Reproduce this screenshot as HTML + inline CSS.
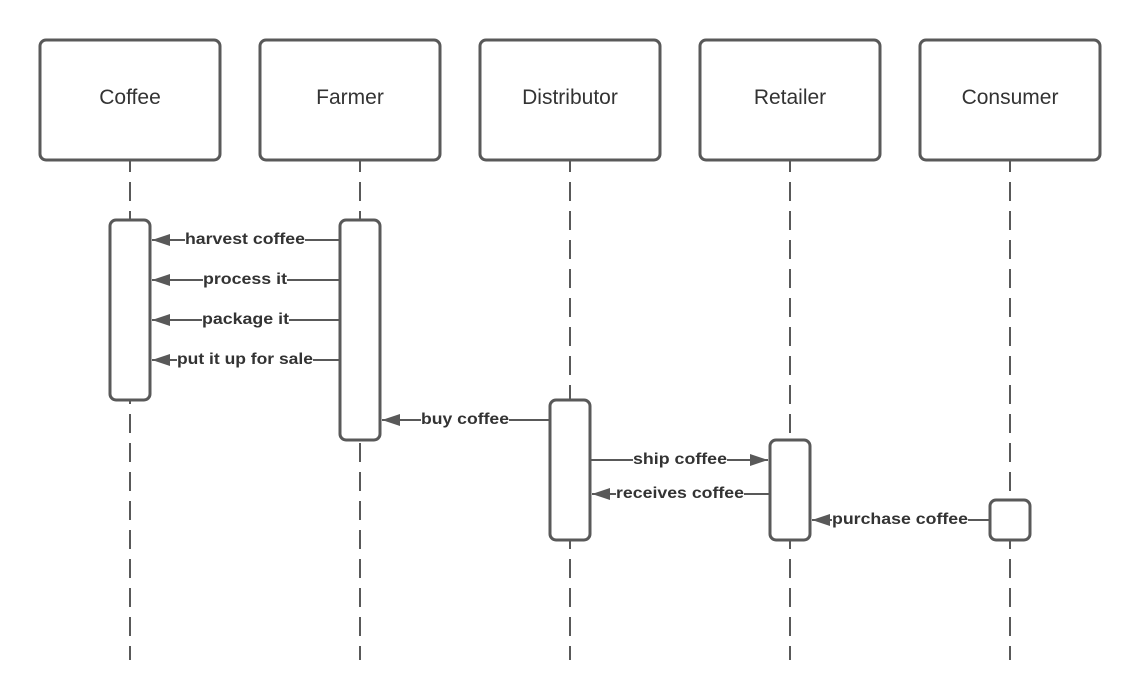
<!DOCTYPE html>
<html><head><meta charset="utf-8"><style>body{margin:0;background:#fff}svg{display:block}text{font-family:"Liberation Sans",sans-serif}</style></head>
<body>
<svg width="1140" height="700" viewBox="0 0 1140 700">
<defs><marker id="a" markerWidth="20" markerHeight="12" refX="18" refY="6" orient="auto" markerUnits="userSpaceOnUse"><path d="M0,0 L18,6 L0,12 Z" fill="#595959"/></marker></defs>
<g stroke="#595959" stroke-width="2" stroke-dasharray="19 10" stroke-dashoffset="7" fill="none">
<line x1="130" y1="160" x2="130" y2="660"/><line x1="360" y1="160" x2="360" y2="660"/><line x1="570" y1="160" x2="570" y2="660"/><line x1="790" y1="160" x2="790" y2="660"/><line x1="1010" y1="160" x2="1010" y2="660"/>
</g>
<g stroke="#595959" stroke-width="3" fill="#fff">
<rect x="40" y="40" width="180" height="120" rx="6"/><rect x="260" y="40" width="180" height="120" rx="6"/><rect x="480" y="40" width="180" height="120" rx="6"/><rect x="700" y="40" width="180" height="120" rx="6"/><rect x="920" y="40" width="180" height="120" rx="6"/>
<rect x="110" y="220" width="40" height="180" rx="6"/><rect x="340" y="220" width="40" height="220" rx="6"/><rect x="550" y="400" width="40" height="140" rx="6"/><rect x="770" y="440" width="40" height="100" rx="6"/><rect x="990" y="500" width="40" height="40" rx="6"/>
</g>
<g font-size="21" fill="#333" text-anchor="middle">
<text x="130" y="104">Coffee</text><text x="350" y="104">Farmer</text><text x="570" y="104">Distributor</text><text x="790" y="104">Retailer</text><text x="1010" y="104">Consumer</text>
</g>
<g stroke="#595959" stroke-width="2" marker-end="url(#a)">
<line x1="340" y1="240" x2="152" y2="240"/><line x1="340" y1="280" x2="152" y2="280"/><line x1="340" y1="320" x2="152" y2="320"/><line x1="340" y1="360" x2="152" y2="360"/>
<line x1="550" y1="420" x2="382" y2="420"/><line x1="590" y1="460" x2="768" y2="460"/><line x1="770" y1="494" x2="592" y2="494"/><line x1="990" y1="520" x2="812" y2="520"/>
</g>
<g font-size="16" font-weight="bold" fill="#333" lengthAdjust="spacingAndGlyphs">
<rect x="185" y="229" width="120" height="20" fill="#fff"/><text x="185" y="244" textLength="120" lengthAdjust="spacingAndGlyphs">harvest coffee</text>
<rect x="203" y="269" width="84" height="20" fill="#fff"/><text x="203" y="284" textLength="84" lengthAdjust="spacingAndGlyphs">process it</text>
<rect x="202" y="309" width="87" height="20" fill="#fff"/><text x="202" y="324" textLength="87" lengthAdjust="spacingAndGlyphs">package it</text>
<rect x="177" y="349" width="136" height="20" fill="#fff"/><text x="177" y="364" textLength="136" lengthAdjust="spacingAndGlyphs">put it up for sale</text>
<rect x="421" y="409" width="88" height="20" fill="#fff"/><text x="421" y="424" textLength="88" lengthAdjust="spacingAndGlyphs">buy coffee</text>
<rect x="633" y="449" width="94" height="20" fill="#fff"/><text x="633" y="464" textLength="94" lengthAdjust="spacingAndGlyphs">ship coffee</text>
<rect x="616" y="483" width="128" height="20" fill="#fff"/><text x="616" y="498" textLength="128" lengthAdjust="spacingAndGlyphs">receives coffee</text>
<rect x="832" y="509" width="136" height="20" fill="#fff"/><text x="832" y="524" textLength="136" lengthAdjust="spacingAndGlyphs">purchase coffee</text>
</g>
</svg>
</body></html>
